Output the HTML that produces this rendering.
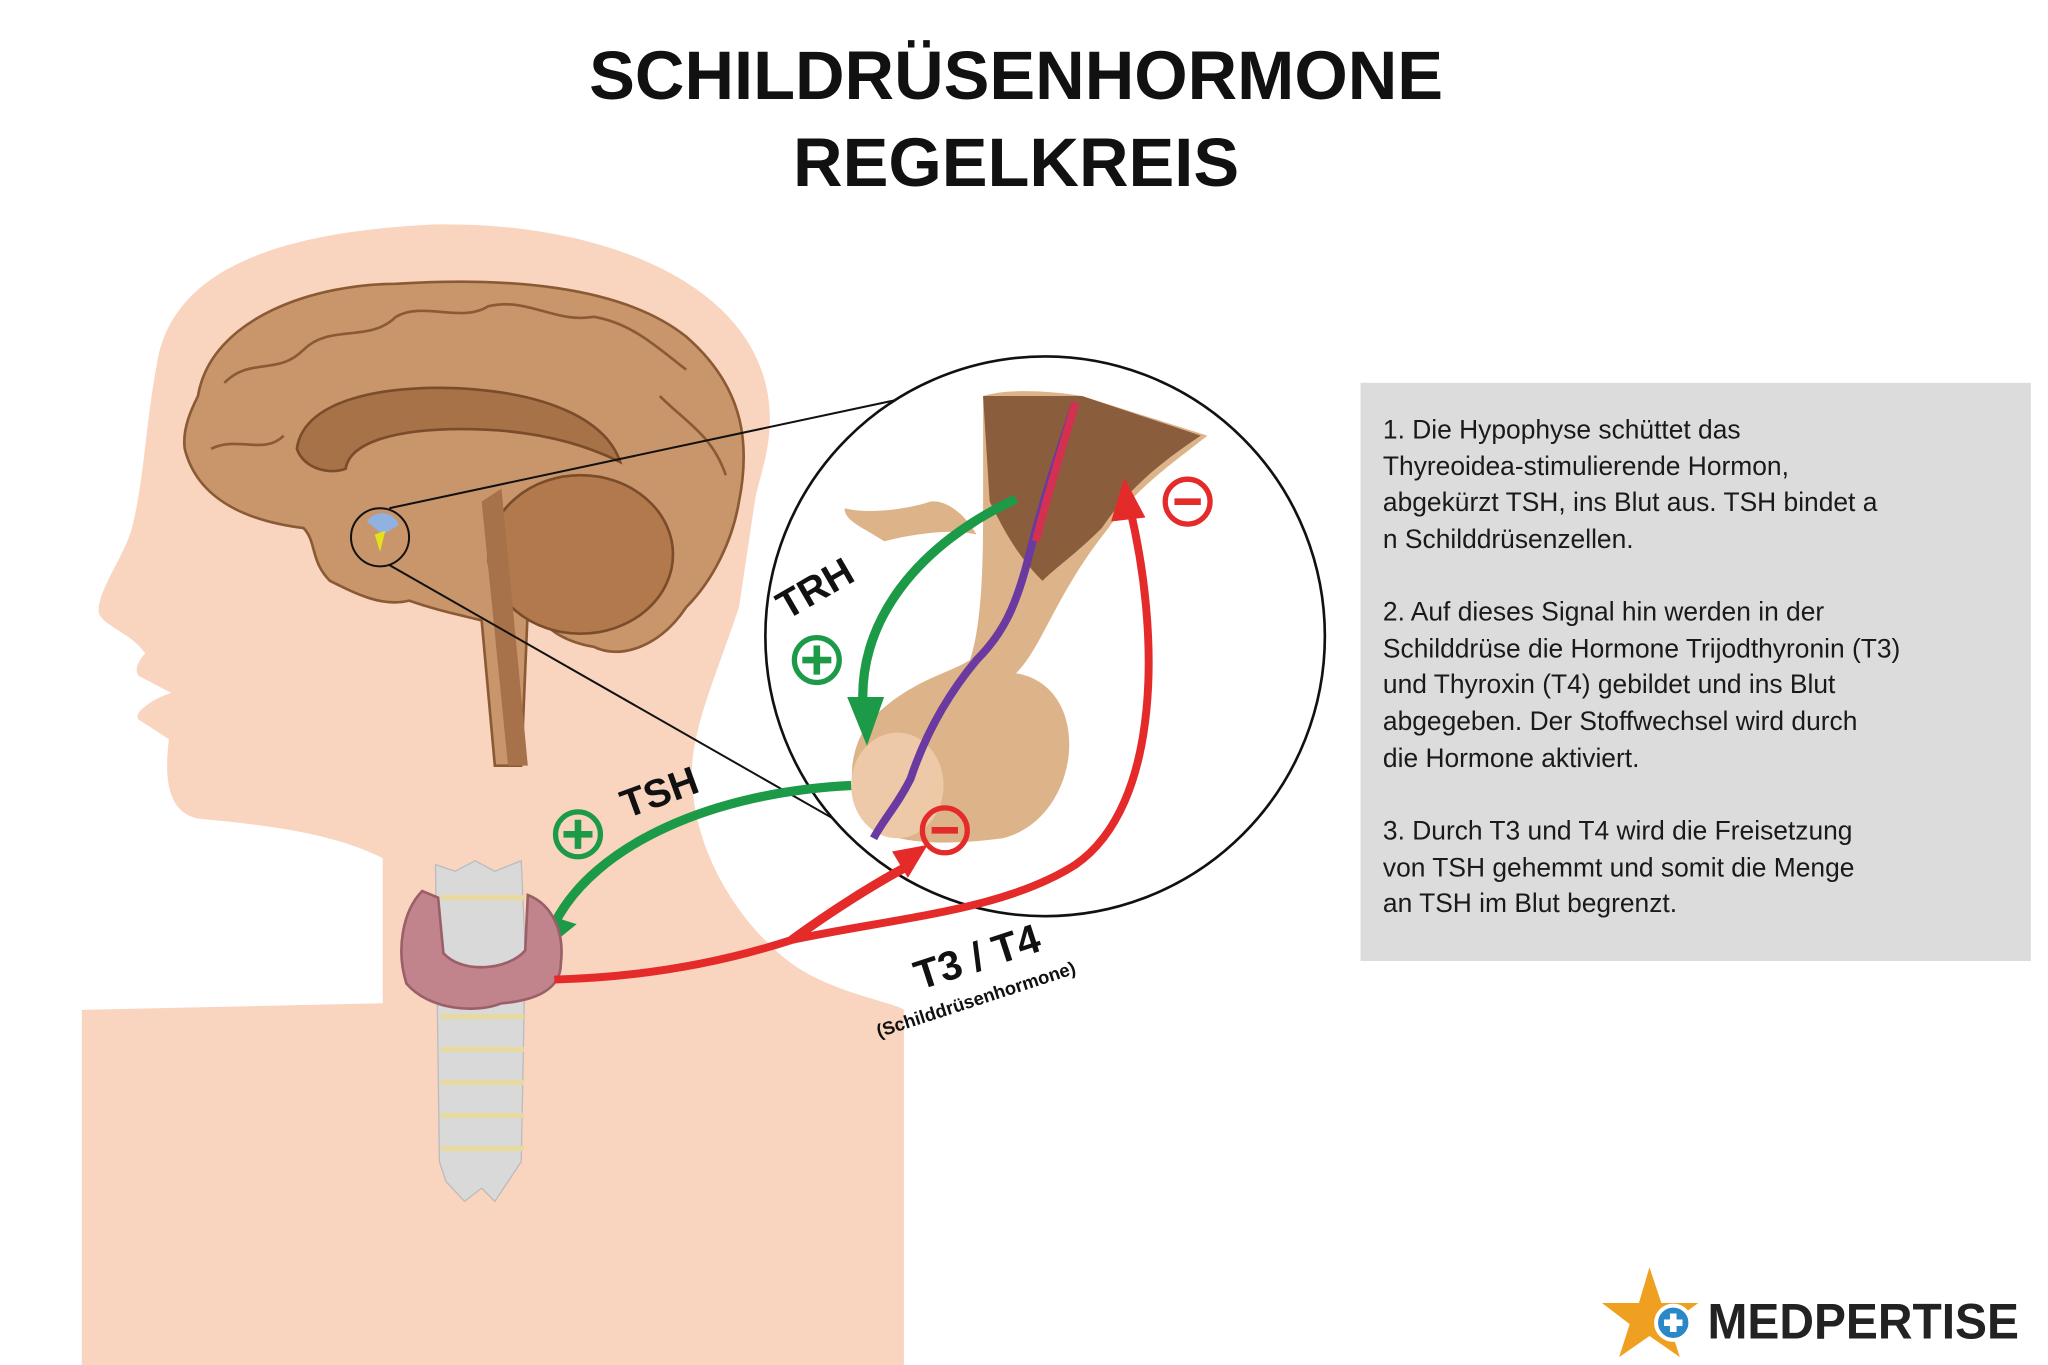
<!DOCTYPE html>
<html><head><meta charset="utf-8"><style>
html,body{margin:0;padding:0;background:#fff;}
svg{display:block;}
</style></head><body>
<svg width="2048" height="1365" viewBox="0 0 1552 1034" xmlns="http://www.w3.org/2000/svg" preserveAspectRatio="none">
<rect width="1552" height="1034" fill="#fff"/>
<!-- title -->
<text x="770" y="75" text-anchor="middle" font-family="Liberation Sans, sans-serif" font-weight="bold" font-size="52" fill="#111">SCHILDRÜSENHORMONE</text>
<text x="770" y="141" text-anchor="middle" font-family="Liberation Sans, sans-serif" font-weight="bold" font-size="52" fill="#111">REGELKREIS</text>
<!-- head silhouette -->
<path d="M62 1040 L62 765 L290 760 L290 650 C250 630 200 625 150 620 C125 615 125 585 128 560 L105 545 C100 540 118 528 130 525 L105 512 C100 505 110 495 110 495 C100 480 80 475 75 465 C72 450 95 420 100 400 C110 360 110 320 120 270 C135 200 220 175 330 170 C450 168 560 210 580 290 C590 330 575 360 572 380 L560 460 C540 520 520 560 525 600 C530 650 560 700 600 730 C630 752 680 760 685 765 L685 1040 Z" fill="#f9d4bf"/>
<!-- brain -->
<path d="M150 300 C160 240 240 215 300 215 C380 210 470 215 520 255 C560 290 570 330 560 380 C555 410 540 440 520 460 C500 490 470 500 450 490 C420 485 410 470 400 460 L395 580 L375 580 L365 470 C345 465 330 462 310 455 C290 460 270 450 250 440 C235 425 240 410 230 400 C190 395 150 380 140 340 C138 325 145 310 150 300 Z" fill="#c9956a" stroke="#8a5a35" stroke-width="2"/>
<g fill="none" stroke="#8a5a35" stroke-width="2">
<path d="M170 290 C190 270 210 285 230 265 C250 245 280 260 300 240 C320 228 350 245 370 232 C400 225 420 245 450 240 C480 245 500 265 520 280"/>
<path d="M160 340 C180 330 200 345 215 330"/>
<path d="M500 300 C520 320 540 330 550 360"/>
</g>
<path d="M225 340 C230 300 300 290 360 295 C420 300 460 320 470 350 C440 335 400 325 350 325 C300 325 265 335 262 355 C250 360 230 355 225 340 Z" fill="#a77248" stroke="#7a4c2c" stroke-width="2"/>
<ellipse cx="440" cy="420" rx="70" ry="60" fill="#b27a4c" stroke="#7a4c2c" stroke-width="2"/>
<path d="M380 370 L400 580 L385 580 L365 380 Z" fill="#a7724a"/>
<circle cx="288" cy="407" r="22" fill="none" stroke="#111" stroke-width="1.5"/>
<path d="M278 395 C285 385 300 388 302 398 L290 405 Z" fill="#8fb2e0"/>
<path d="M284 405 L292 402 L288 418 Z" fill="#e6e21a"/>
<!-- zoom lines -->
<line x1="295" y1="385" x2="740" y2="290" stroke="#111" stroke-width="1.5"/>
<line x1="295" y1="428" x2="640" y2="625" stroke="#111" stroke-width="1.5"/>
<!-- magnifier circle -->
<circle cx="792" cy="482" r="212" fill="#fff" stroke="#111" stroke-width="2"/>
<!-- pituitary -->
<path d="M745 300 C760 295 790 295 820 300 L915 330 C890 350 860 370 840 400 C800 450 790 490 770 510 C830 520 820 620 760 635 C720 640 690 640 665 630 C640 610 640 570 660 545 C690 515 720 510 735 500 C745 470 745 420 745 380 Z" fill="#ddb48a"/>
<path d="M745 300 L820 300 L910 330 C880 350 855 370 835 400 C815 420 800 430 790 440 C770 420 760 400 750 380 Z" fill="#8a5e3c"/>
<path d="M640 385 C660 390 690 385 705 380 C720 378 735 395 740 405 C720 400 690 405 670 410 C655 400 640 395 640 385 Z" fill="#ddb48a"/>
<ellipse cx="680" cy="595" rx="35" ry="40" fill="#edc9a8"/>
<path d="M815 305 C800 350 790 380 780 420 C770 460 760 480 740 500 C715 530 700 560 690 590 C680 610 670 620 662 635" fill="none" stroke="#6a3aa0" stroke-width="6"/>
<path d="M815 305 C805 340 795 370 785 410" fill="none" stroke="#d43050" stroke-width="6"/>
<!-- green TRH arrow -->
<path d="M770 378 C700 410 645 470 655 545" fill="none" stroke="#1c9a48" stroke-width="7"/>
<path d="M642 528 L657 565 L670 528 Z" fill="#1c9a48"/>
<!-- green TSH arrow -->
<path d="M645 595 C540 600 450 640 420 700" fill="none" stroke="#1c9a48" stroke-width="7"/>
<path d="M405 690 L410 722 L437 700 Z" fill="#1c9a48"/>
<!-- trachea + thyroid -->
<path d="M330 655 L345 660 L360 652 L375 660 L395 652 L398 720 L395 880 L385 895 L375 910 L365 900 L352 910 L338 895 L333 880 Z" fill="#d9d9d9" stroke="#bcbcbc"/>
<g stroke="#e8d9a0" stroke-width="4"><line x1="334" y1="680" x2="398" y2="680"/><line x1="334" y1="770" x2="397" y2="770"/><line x1="334" y1="795" x2="397" y2="795"/><line x1="334" y1="820" x2="397" y2="820"/><line x1="334" y1="845" x2="397" y2="845"/><line x1="334" y1="870" x2="397" y2="870"/></g>
<path d="M320 675 C305 690 300 720 308 745 C325 765 360 768 380 760 C405 758 425 750 425 730 C428 705 418 685 400 678 L398 720 C385 735 350 738 336 722 L332 680 Z" fill="#c2848c" stroke="#9a5f68" stroke-width="2"/>
<!-- red arrows -->
<path d="M420 742 C500 740 560 725 600 712 C680 695 760 690 815 655 C880 610 880 480 855 380" fill="none" stroke="#e52a2a" stroke-width="6"/>
<path d="M842 395 L852 362 L868 392 Z" fill="#e52a2a"/>
<path d="M600 712 C630 690 665 668 690 655" fill="none" stroke="#e52a2a" stroke-width="7"/>
<path d="M676 645 L703 640 L688 665 Z" fill="#e52a2a"/>
<!-- plus/minus -->
<g fill="none" stroke-width="4">
<circle cx="619" cy="500" r="17" stroke="#1c9a48"/><circle cx="438" cy="632" r="17" stroke="#1c9a48"/>
<circle cx="900" cy="380" r="17" stroke="#e52a2a"/><circle cx="716" cy="629" r="17" stroke="#e52a2a"/>
</g>
<g stroke-width="5"><path d="M608 500 H630 M619 489 V511" stroke="#1c9a48"/><path d="M427 632 H449 M438 621 V643" stroke="#1c9a48"/><path d="M890 380 H910" stroke="#e52a2a"/><path d="M706 629 H726" stroke="#e52a2a"/></g>
<!-- labels -->
<text transform="translate(596,470) rotate(-30)" font-family="Liberation Sans, sans-serif" font-weight="bold" font-size="30" fill="#111">TRH</text>
<text transform="translate(475,620) rotate(-20)" font-family="Liberation Sans, sans-serif" font-weight="bold" font-size="30" fill="#111">TSH</text>
<text transform="translate(697,750) rotate(-18)" font-family="Liberation Sans, sans-serif" font-weight="bold" font-size="31" fill="#111">T3 / T4</text>
<text transform="translate(666,786) rotate(-18)" font-family="Liberation Sans, sans-serif" font-weight="bold" font-size="14" fill="#111">(Schilddrüsenhormone)</text>
<!-- text box -->
<rect x="1031" y="290" width="508" height="438" fill="#dcdcdc"/>
<g font-family="Liberation Sans, sans-serif" font-size="20" fill="#1a1a1a">
<text x="1048" y="332">1. Die Hypophyse schüttet das</text>
<text x="1048" y="360">Thyreoidea-stimulierende Hormon,</text>
<text x="1048" y="387">abgekürzt TSH, ins Blut aus. TSH bindet a</text>
<text x="1048" y="415">n Schilddrüsenzellen.</text>
<text x="1048" y="470">2. Auf dieses Signal hin werden in der</text>
<text x="1048" y="498">Schilddrüse die Hormone Trijodthyronin (T3)</text>
<text x="1048" y="525">und Thyroxin (T4) gebildet und ins Blut</text>
<text x="1048" y="553">abgegeben. Der Stoffwechsel wird durch</text>
<text x="1048" y="581">die Hormone aktiviert.</text>
<text x="1048" y="636">3. Durch T3 und T4 wird die Freisetzung</text>
<text x="1048" y="664">von TSH gehemmt und somit die Menge</text>
<text x="1048" y="691">an TSH im Blut begrenzt.</text>
</g>
<!-- logo -->
<path d="M1250 960 L1259 987 L1287 987 L1265 1003 L1273 1028 L1250 1012 L1227 1028 L1235 1003 L1214 987 L1242 987 Z" fill="#f0a020"/>
<circle cx="1268" cy="1002" r="13" fill="#2a88c8" stroke="#fff" stroke-width="3"/>
<path d="M1261 1002 H1275 M1268 995 V1009" stroke="#fff" stroke-width="5"/>
<text x="1294" y="1014" font-family="Liberation Sans, sans-serif" font-weight="bold" font-size="38" fill="#222" textLength="236" lengthAdjust="spacingAndGlyphs">MEDPERTISE</text>
</svg>
</body></html>
